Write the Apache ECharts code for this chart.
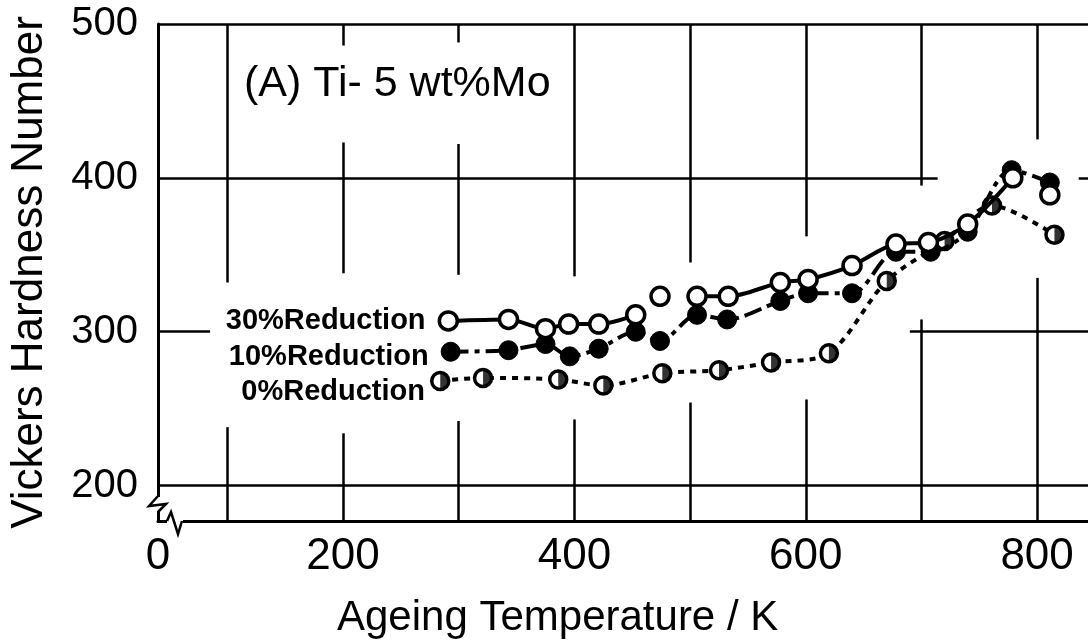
<!DOCTYPE html>
<html lang="en">
<head>
<meta charset="UTF-8">
<title>Ti-5wt%Mo hardness vs ageing temperature</title>
<script src="https://cdn.jsdelivr.net/npm/echarts@6/dist/echarts.min.js"></script>
<style>
  body { margin: 0; padding: 0; background: #fff; }
  #main { width: 1088px; height: 644px; }
</style>
</head>
<body>
<div id="main"></div>
<script>
// both axes are broken in the original: the corner is labelled "0" and cut below 200
var xMin = 40, xMax = 844;
var yMin = 177, yMax = 500;
var xTickValues = [40, 200, 400, 600, 800];
var xTickLabels = ['0', '200', '400', '600', '800'];
var yTickValues = [200, 300, 400, 500];

// 30% reduction - open circles, solid line
var temp30 = [291, 343, 375, 395, 421, 453, 474, 506, 533, 578, 602, 640, 678, 706, 740, 779, 811];
var hv30   = [307, 308, 302, 305, 305, 311, 323, 323, 323, 332, 334, 343, 357, 358, 370, 400, 389];
var lone30 = [474, 811];   // points not joined to the curve

// 10% reduction - filled circles, dash-dot line
var temp10 = [293, 343, 375, 396, 421, 453, 474, 506, 532, 578, 602, 640, 678, 708, 740, 778, 811];
var hv10   = [287, 288, 292, 284, 289, 300, 294, 311, 308, 320, 325, 325, 352, 352, 365, 405, 397];

// 0% reduction - half filled circles, dotted line
var temp0 = [284, 321, 386, 425, 476, 525, 570, 620, 670, 720, 761, 815];
var hv0   = [268, 270, 269, 265, 273, 275, 280, 286, 333, 359, 382, 363];

// grid line pieces (the printed grid is interrupted around curves and text)
var vGrid = [
  [100, [[177, 238], [332, 500]]],
  [200, [[177, 234], [338, 423], [486, 500]]],
  [300, [[177, 242], [337, 422], [488, 500]]],
  [400, [[177, 243], [336, 500]]],
  [500, [[177, 254], [345, 500]]],
  [600, [[177, 256], [362, 500]]],
  [700, [[177, 308], [395, 500]]],
  [800, [[177, 335], [425, 500]]]
];
var hGrid = [
  [500, [[40, 844]]],
  [400, [[40, 714], [836, 844]]],
  [300, [[40, 85], [690, 844]]],
  [200, [[40, 844]]]
];

var font = 'Liberation Sans';
var black = '#000';

function runs(xs, ys, lone) {
  var out = [], cur = [];
  xs.forEach(function (x, i) {
    if (lone.indexOf(x) >= 0) {
      if (cur.length) out.push(cur);
      out.push([[x, ys[i]]]);
      cur = [];
    } else {
      cur.push([x, ys[i]]);
    }
  });
  if (cur.length) out.push(cur);
  return out;
}

function withLabel(pts, dy) {
  return pts.map(function (p, i) {
    if (i > 0) return p;
    return { value: p, label: { show: true, offset: [0, dy] } };
  });
}

var gridSegs = [];
vGrid.forEach(function (g) {
  g[1].forEach(function (s) { gridSegs.push([{ coord: [g[0], s[0]] }, { coord: [g[0], s[1]] }]); });
});
hGrid.forEach(function (g) {
  g[1].forEach(function (s) { gridSegs.push([{ coord: [s[0], g[0]] }, { coord: [s[1], g[0]] }]); });
});

var labelStyle = {
  show: false, position: 'left', formatter: '{a}',
  color: black, fontFamily: font, fontSize: 29, fontWeight: 'bold'
};

var series = [];
series.push({
  type: 'line', data: [], silent: true, z: 1,
  markLine: {
    silent: true, symbol: 'none', animation: false,
    label: { show: false },
    lineStyle: { color: black, width: 2.5, type: 'solid' },
    emphasis: { disabled: true },
    data: gridSegs
  }
});

// 0%
var pts0 = temp0.map(function (t, i) { return [t, hv0[i]]; });
series.push({
  name: '0%Reduction', type: 'line', z: 3, smooth: 0.3,
  data: withLabel(pts0, 11),
  symbol: 'circle', symbolSize: 17,
  itemStyle: { color: '#fff', borderColor: black, borderWidth: 3.5 },
  lineStyle: { color: black, width: 4, type: [6, 6] },
  label: Object.assign({}, labelStyle, { distance: 5 })
});
series.push({
  name: '0%half', type: 'scatter', z: 4, data: pts0,
  symbol: 'path://M0,0 A10,10 0 0 1 0,20 Z',
  symbolSize: [8.5, 17], symbolOffset: [4.25, 0],
  itemStyle: { color: black }
});

// 10%
var pts10 = temp10.map(function (t, i) { return [t, hv10[i]]; });
series.push({
  name: '10%Reduction', type: 'line', z: 5, smooth: 0.3,
  data: withLabel(pts10, 5),
  symbol: 'circle', symbolSize: 19,
  itemStyle: { color: black, borderColor: black, borderWidth: 1 },
  lineStyle: { color: black, width: 4, type: [18, 6, 5, 6] },
  label: Object.assign({}, labelStyle, { distance: 12 })
});

// 30%
runs(temp30, hv30, lone30).forEach(function (r, k) {
  series.push({
    name: '30%Reduction', type: 'line', z: 6, smooth: 0.3,
    data: k === 0 ? withLabel(r, 0) : r,
    symbol: 'circle', symbolSize: 18, showAllSymbol: true,
    itemStyle: { color: '#fff', borderColor: black, borderWidth: 3.5 },
    lineStyle: { color: black, width: 4, type: 'solid' },
    label: Object.assign({}, labelStyle, { distance: 12 })
  });
});

var myChart = echarts.init(document.getElementById('main'));
var option = {
  animation: false,
  backgroundColor: '#fff',
  title: [
    { text: '(A) Ti- 5 wt%Mo', left: 244, top: 63, padding: 0,
      textStyle: { fontFamily: font, fontSize: 43, fontWeight: 'normal', color: black } },
    { text: 'Ageing Temperature / K', left: 337, top: 597, padding: 0,
      textStyle: { fontFamily: font, fontSize: 42, fontWeight: 'normal', color: black } }
  ],
  grid: { left: 158, right: 0, top: 24, bottom: 123, containLabel: false },
  xAxis: {
    type: 'value', min: xMin, max: xMax,
    axisLine: { show: true, onZero: false, lineStyle: { color: black, width: 3 } },
    axisTick: { show: false },
    splitLine: { show: false },
    axisLabel: {
      customValues: xTickValues,
      formatter: function (v) { return xTickLabels[xTickValues.indexOf(v)]; },
      color: black, fontFamily: font, fontSize: 44, margin: 14
    }
  },
  yAxis: {
    type: 'value', min: yMin, max: yMax,
    name: 'Vickers Hardness Number', nameLocation: 'middle', nameGap: 106,
    nameTextStyle: { color: black, fontFamily: font, fontSize: 44 },
    axisLine: { show: true, onZero: false, lineStyle: { color: black, width: 3 } },
    axisTick: { show: false },
    splitLine: { show: false },
    axisLabel: {
      customValues: yTickValues,
      color: black, fontFamily: font, fontSize: 40, margin: 20
    }
  },
  series: series
};
myChart.setOption(option);

// break marks at the lower-left corner, placed from the axis scales
var c = myChart.convertToPixel({ gridIndex: 0 }, [xMin, yMin]);
var ox = c[0], oy = c[1];
myChart.setOption({
  graphic: [
    { type: 'rect', z: 100, shape: { x: ox - 3, y: oy - 24, width: 6, height: 14 }, style: { fill: '#fff' } },
    { type: 'polyline', z: 101, shape: { points: [[ox, oy - 25], [ox - 9, oy - 15], [ox + 8, oy - 17], [ox, oy - 9]] },
      style: { stroke: black, lineWidth: 2.5, fill: null } },
    { type: 'rect', z: 100, shape: { x: ox + 9, y: oy - 3, width: 16, height: 6 }, style: { fill: '#fff' } },
    { type: 'polyline', z: 101, shape: { points: [[ox + 9, oy], [ox + 13, oy - 9], [ox + 20, oy + 13], [ox + 24, oy]] },
      style: { stroke: black, lineWidth: 2.5, fill: null } }
  ]
});
</script>
</body>
</html>
